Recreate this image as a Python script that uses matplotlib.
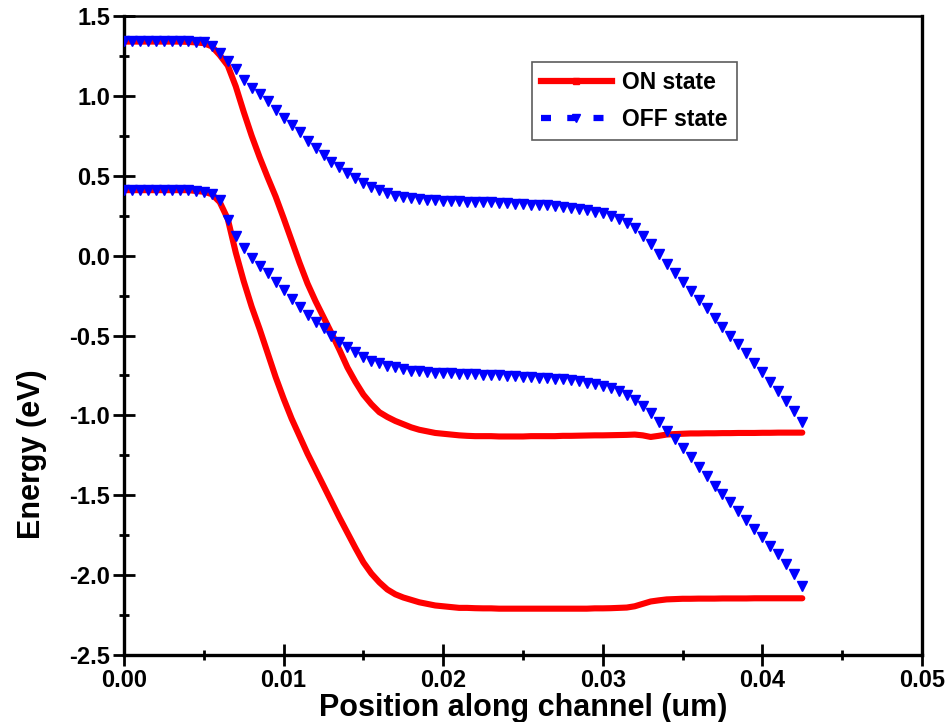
import numpy as np
import matplotlib
matplotlib.use("Agg")
import matplotlib.pyplot as plt
from matplotlib.lines import Line2D
from matplotlib.ticker import MultipleLocator, FormatStrFormatter

plt.rcParams['font.family'] = ['Liberation Sans', 'DejaVu Sans']
plt.rcParams['font.weight'] = 'bold'
plt.rcParams['axes.unicode_minus'] = False

# Position along channel (um) -- sampled every 0.0005
position = np.arange(86) * 0.0005

on_upper = [1.34, 1.34, 1.34, 1.34, 1.34, 1.34, 1.34, 1.34, 1.338, 1.335,
            1.33, 1.31, 1.255, 1.19, 1.06, 0.90, 0.75, 0.615, 0.49, 0.37,
            0.235, 0.095, -0.045, -0.175, -0.285, -0.385, -0.485, -0.59, -0.70, -0.79,
            -0.87, -0.93, -0.98, -1.01, -1.035, -1.055, -1.075, -1.09, -1.10, -1.11,
            -1.115, -1.12, -1.125, -1.128, -1.13, -1.13, -1.13, -1.132, -1.132, -1.132,
            -1.132, -1.13, -1.13, -1.13, -1.13, -1.128, -1.128, -1.127, -1.126, -1.125,
            -1.125, -1.124, -1.123, -1.122, -1.12, -1.125, -1.135, -1.128, -1.12, -1.117,
            -1.115, -1.113, -1.113, -1.112, -1.112, -1.111, -1.111, -1.11, -1.11, -1.11,
            -1.109, -1.109, -1.108, -1.108, -1.108, -1.108]

on_lower = [0.41, 0.41, 0.41, 0.41, 0.41, 0.41, 0.41, 0.41, 0.41, 0.405,
            0.40, 0.385, 0.335, 0.23, 0.02, -0.16, -0.32, -0.46, -0.61, -0.76,
            -0.895, -1.02, -1.13, -1.24, -1.34, -1.44, -1.54, -1.64, -1.735, -1.83,
            -1.92, -1.99, -2.045, -2.09, -2.12, -2.14, -2.155, -2.17, -2.18, -2.19,
            -2.195, -2.20, -2.205, -2.205, -2.207, -2.208, -2.208, -2.21, -2.21, -2.21,
            -2.21, -2.21, -2.21, -2.21, -2.21, -2.21, -2.21, -2.21, -2.21, -2.208,
            -2.208, -2.207, -2.205, -2.203, -2.195, -2.18, -2.165, -2.158, -2.152, -2.15,
            -2.148, -2.148, -2.147, -2.147, -2.147, -2.146, -2.146, -2.146, -2.146, -2.145,
            -2.145, -2.145, -2.145, -2.145, -2.145, -2.145]

off_upper = [1.345, 1.345, 1.345, 1.345, 1.345, 1.345, 1.345, 1.345, 1.345, 1.34,
             1.335, 1.31, 1.27, 1.22, 1.17, 1.10, 1.05, 1.01, 0.97, 0.91,
             0.86, 0.82, 0.775, 0.72, 0.675, 0.63, 0.585, 0.555, 0.52, 0.485,
             0.455, 0.43, 0.41, 0.39, 0.375, 0.365, 0.36, 0.355, 0.35, 0.348,
             0.345, 0.34, 0.34, 0.338, 0.336, 0.335, 0.333, 0.33, 0.328, 0.325,
             0.322, 0.32, 0.317, 0.314, 0.31, 0.305, 0.30, 0.293, 0.285, 0.275,
             0.265, 0.25, 0.23, 0.205, 0.17, 0.125, 0.07, 0.01, -0.05, -0.11,
             -0.165, -0.22, -0.275, -0.33, -0.39, -0.445, -0.50, -0.555, -0.61, -0.67,
             -0.73, -0.79, -0.85, -0.91, -0.975, -1.04]

off_lower = [0.41, 0.41, 0.41, 0.41, 0.41, 0.41, 0.41, 0.41, 0.41, 0.405,
             0.40, 0.385, 0.35, 0.22, 0.12, 0.05, -0.015, -0.065, -0.11, -0.165,
             -0.215, -0.27, -0.32, -0.37, -0.415, -0.455, -0.50, -0.54, -0.575, -0.605,
             -0.635, -0.66, -0.675, -0.69, -0.70, -0.71, -0.72, -0.725, -0.73, -0.733,
             -0.735, -0.737, -0.74, -0.742, -0.744, -0.746, -0.748, -0.75, -0.752, -0.755,
             -0.758, -0.76, -0.763, -0.767, -0.77, -0.775, -0.78, -0.787, -0.795, -0.805,
             -0.815, -0.83, -0.85, -0.875, -0.905, -0.94, -0.985, -1.04, -1.095, -1.15,
             -1.205, -1.26, -1.32, -1.38, -1.44, -1.49, -1.545, -1.60, -1.655, -1.71,
             -1.76, -1.815, -1.87, -1.93, -1.99, -2.07]

series_labels = ["ON state", "OFF state"]

fig = plt.figure(figsize=(9.51, 7.22), dpi=100)
ax = fig.add_axes([0.1304, 0.0928, 0.8391, 0.885])

red = '#ff0000'
blue = '#0000ff'
ax.plot(position, on_upper, color=red, lw=4.4, solid_capstyle='round',
        solid_joinstyle='round', zorder=2)
ax.plot(position, on_lower, color=red, lw=4.4, solid_capstyle='round',
        solid_joinstyle='round', zorder=2)
ax.plot(position, off_upper, linestyle='none', marker='v', color=blue, ms=7.5, zorder=3)
ax.plot(position, off_lower, linestyle='none', marker='v', color=blue, ms=7.5, zorder=3)

ax.set_xlim(0, 0.05)
ax.set_ylim(-2.5, 1.5)
ax.xaxis.set_major_locator(MultipleLocator(0.01))
ax.xaxis.set_minor_locator(MultipleLocator(0.005))
ax.yaxis.set_major_locator(MultipleLocator(0.5))
ax.yaxis.set_minor_locator(MultipleLocator(0.25))
ax.xaxis.set_major_formatter(FormatStrFormatter('%.2f'))
ax.yaxis.set_major_formatter(FormatStrFormatter('%.1f'))

ax.tick_params(which='major', direction='inout', length=16, width=2, labelsize=17, pad=2)
ax.tick_params(which='minor', direction='inout', length=7, width=2)
ax.tick_params(top=False, right=False, which='both')
for lab in ax.get_xticklabels() + ax.get_yticklabels():
    lab.set_fontweight('bold')
for side in ['left', 'bottom', 'right']:
    ax.spines[side].set_linewidth(2.4)
ax.spines['top'].set_linewidth(1.8)

ax.set_xlabel('Position along channel (um)', fontsize=22, fontweight='bold', labelpad=1)
ax.set_ylabel('Energy (eV)', fontsize=22, fontweight='bold')
ax.yaxis.set_label_coords(-0.097, 0.315)

handles = [
    Line2D([], [], color=red, lw=4.5, marker='s', ms=4),
    Line2D([], [], color=blue, lw=4.5, linestyle=(0, (1.6, 2.6)), marker='v', ms=6),
]
leg = ax.legend(handles, series_labels, loc='upper left', bbox_to_anchor=(0.511, 0.928),
                borderaxespad=0, frameon=True, fancybox=False,
                handlelength=3.1, numpoints=1, labelspacing=0.6, handletextpad=0.45,
                borderpad=0.4, prop={'weight': 'bold', 'size': 16.5})
leg.get_frame().set_edgecolor('#333333')
leg.get_frame().set_linewidth(1.2)

fig.savefig('out.png', dpi=100)
